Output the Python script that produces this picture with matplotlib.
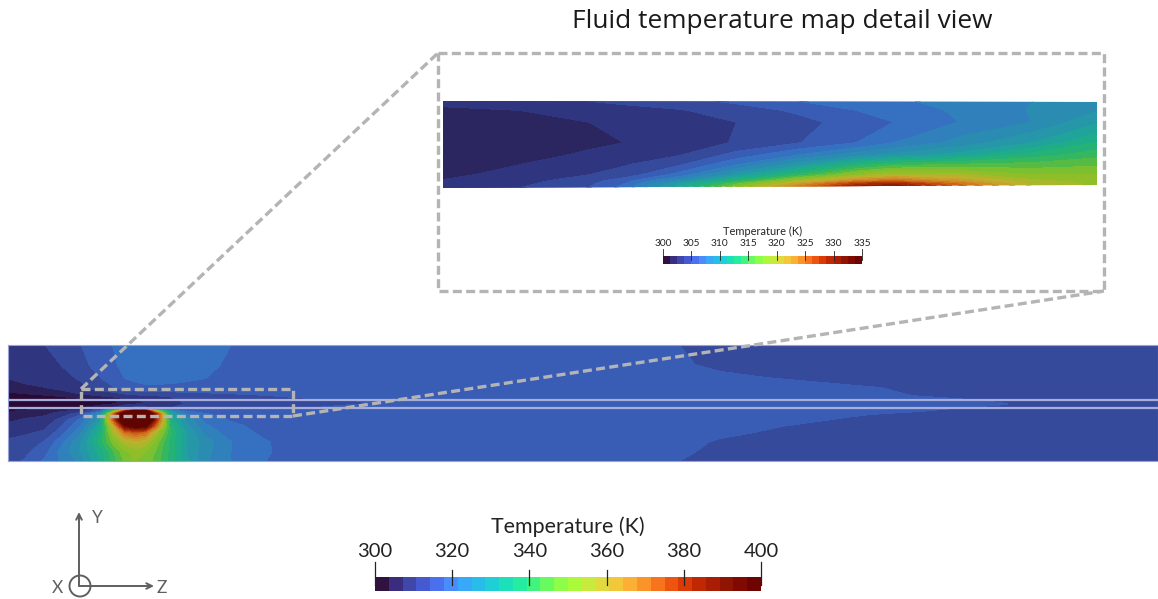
import numpy as np
import matplotlib
matplotlib.use("Agg")
import matplotlib.pyplot as plt
from matplotlib.colors import ListedColormap
from matplotlib.patches import Polygon, Ellipse

# ---------- data ----------
band_colors = ["#2f1240", "#3a2d80", "#3f47a8", "#4659d0", "#4a70ee", "#4a8cfa", "#38a8f8",
               "#28bde8", "#1ed0d5", "#1be0b8", "#25ec9f", "#40f47f", "#68fb60", "#8dfd48",
               "#aafa3a", "#c8ea3e", "#e0da3f", "#f2c83a", "#fbb035", "#fb9428", "#f7731c",
               "#ec5410", "#da3a08", "#c02804", "#a81d03", "#901402", "#800a02", "#6e0402"]
# the lit surfaces show duller colours than the colour bars
field_colors = ["#30357f", "#364a9c", "#395cb4", "#3670c0", "#2f80bb", "#2a8cb0", "#2597a8",
                "#1fa39a", "#1fac88", "#25b276", "#35b760", "#55bb45", "#7ac030", "#8fbe28",
                "#a8b82a", "#bcb02c", "#c8a02c", "#cf8e28", "#cf7a20", "#cc6418", "#c44c10",
                "#b43608", "#a02804", "#8c1c03", "#7a1402", "#6c0a02", "#600402"]
main_low_colors = ["#2a0a35", "#2b2058"]
inset_low_color = "#2b2560"

main_ticks = [300, 320, 340, 360, 380, 400]
inset_ticks = [300, 305, 310, 315, 320, 325, 330, 335]

main_z_mm = [0, 1.7, 3.7, 5.2, 7.2, 9.2, 10.7, 11.7, 12.7, 13.7, 14.7, 16.2, 17.7, 19.7, 22.2,
             25.7, 29.2, 34.2, 49.2, 67.2, 71.2, 84.2, 99.2, 115]
main_y_mm = [11.6, 9.6, 8.3, 7.3, 6.5, 6.1, 5.7, 5.3, 5.0, 4.7, 4.1, 3.5, 2.9, 1.9, 0.9, 0]
main_T = [
 [305.5,306.3,307.1,308.5,310.5,313.0,314.5,315.2,315.7,316.0,316.2,316.2,316.0,315.2,314.3,313.5,313.0,312.5,312.0,310.7,310.0,309.5,309.3,309.2],
 [305.0,305.6,306.3,307.0,309.5,312.0,314.0,315.0,315.7,316.0,316.2,316.2,316.0,315.0,313.8,313.0,312.7,312.3,312.0,310.9,310.4,309.5,309.3,309.2],
 [303.6,304.2,305.0,305.8,307.5,310.5,313.0,314.3,315.0,315.4,315.4,315.2,315.0,314.3,313.5,312.8,312.5,312.2,312.0,311.5,311.0,310.2,309.5,309.2],
 [302.5,303.0,303.4,304.0,306.0,308.5,310.5,312.0,313.0,313.5,313.5,313.5,313.0,312.8,312.5,312.0,311.9,311.8,311.8,311.5,311.3,310.9,310.0,309.5],
 [301.0,301.2,301.5,301.8,302.5,303.2,304.0,305.0,305.7,306.2,306.6,307.2,308.0,309.0,309.8,310.5,311.0,311.3,311.5,311.5,311.4,311.0,310.3,309.8],
 [300.2,300.4,300.6,300.8,301.0,301.2,301.6,302.5,303.2,304.0,305.0,306.5,307.5,308.5,309.3,309.8,310.2,310.7,311.2,311.5,311.4,311.2,310.6,310.0],
 [300.0,300.2,300.4,300.7,301.0,301.3,301.7,302.5,303.0,303.3,303.6,305.5,307.1,308.2,309.2,309.9,310.2,310.6,311.4,311.8,311.7,311.3,310.75,310.0],
 [300.5,300.7,301.0,301.3,301.7,302.5,304.0,306.0,308.0,308.0,306.0,307.0,308.0,309.2,309.8,310.2,310.6,311.0,311.5,311.7,311.5,311.2,310.5,309.8],
 [301.5,302.0,302.5,303.0,304.0,312.0,345.0,380.0,400.0,400.0,355.0,322.0,314.0,312.5,312.0,312.0,312.0,312.0,312.0,311.6,311.4,311.0,310.4,309.6],
 [302.0,302.5,303.0,304.5,309.0,322.0,375.0,410.0,420.0,420.0,385.0,330.0,318.0,314.5,313.0,312.7,312.4,312.2,312.0,311.6,311.3,310.8,310.2,309.5],
 [303.0,303.8,304.5,308.0,315.0,327.0,378.0,412.0,430.0,425.0,385.0,335.0,325.0,316.5,314.0,313.0,312.6,312.3,312.0,311.5,311.2,310.6,310.0,309.5],
 [304.2,305.0,306.0,310.0,317.0,331.0,362.0,392.0,400.0,398.0,372.0,338.0,326.0,318.5,315.0,313.2,312.7,312.3,312.0,311.4,311.0,310.4,309.9,309.4],
 [305.5,306.5,307.5,312.0,320.0,334.0,356.0,370.0,375.0,372.0,356.0,340.0,329.0,320.0,316.0,313.4,312.8,312.4,312.0,311.3,310.9,310.2,309.7,309.3],
 [307.8,308.3,311.0,316.0,324.0,337.0,349.0,355.0,358.0,356.0,349.0,338.0,329.0,323.0,318.0,314.5,313.0,312.5,312.0,311.0,310.6,310.0,309.5,309.3],
 [309.0,309.8,313.0,318.5,325.0,333.0,343.0,349.0,351.0,350.0,346.0,338.0,329.0,322.5,317.9,314.5,313.3,312.6,312.0,310.9,310.4,309.8,309.4,309.2],
 [309.5,311.0,314.8,318.0,322.0,332.0,342.0,347.0,350.0,349.0,345.0,338.0,330.0,322.0,317.9,314.3,313.3,312.6,312.0,310.7,310.2,309.6,309.3,309.2],
]

inset_z_mm = [0, 7.7, 14.7, 18.2, 23.7, 29.4, 35.7, 41.4, 45.2, 51.9, 59.0, 65.4]
inset_y_mm = [8.7, 7.8, 6.6, 4.5, 3.3, 2.3, 1.3, 0.7, 0.4, 0]
inset_T = [
 [301.9,302.2,302.5,302.8,303.3,304.0,305.0,305.6,306.0,306.8,307.5,308.0],
 [300.8,301.25,301.8,302.0,302.4,303.1,304.0,305.0,305.5,306.5,307.6,308.6],
 [300.5,300.9,301.25,301.5,302.0,302.5,303.35,304.3,305.0,306.3,307.5,309.7],
 [300.3,300.7,301.05,301.25,301.9,302.6,303.7,305.0,306.25,308.0,310.0,312.5],
 [300.4,300.9,301.4,301.7,302.4,304.2,306.2,308.0,309.0,310.5,313.0,314.5],
 [300.6,301.25,301.9,302.4,303.6,306.2,309.5,313.0,314.5,315.2,315.5,316.0],
 [301.0,301.6,302.5,303.0,305.5,309.5,314.0,318.0,319.5,319.0,317.5,317.5],
 [301.3,302.0,303.2,304.5,308.0,313.0,319.0,323.5,325.0,322.0,319.0,318.2],
 [301.6,302.2,303.5,305.0,310.0,316.0,322.0,328.0,329.5,324.5,319.5,318.5],
 [302.0,302.5,303.8,305.5,311.0,318.0,325.0,331.0,332.0,326.0,320.0,318.7],
]

W, H = 1158, 599
fig = plt.figure(figsize=(W / 100, H / 100), dpi=100, facecolor="white")
plt.rcParams["font.family"] = ["Lato", "DejaVu Sans"]


def axes_px(x0, y0, x1, y1, **kw):
    return fig.add_axes([x0 / W, 1 - y1 / H, (x1 - x0) / W, (y1 - y0) / H], **kw)


bar_cmap = ListedColormap(band_colors)
n_bands = len(band_colors)
below, above = 250, 500


def draw_field(ax, z, y, T, levels, colors):
    cs = ax.contourf(z, y, np.array(T), levels=levels, colors=colors)
    cs.set_edgecolor("face")
    cs.set_linewidth(0.6)
    return cs


def draw_bar(x0, y0, x1, y1, lo, hi, ticks, title, fs, title_fs, tick_up, end_up, lpad, tpad, lw):
    ax = axes_px(x0, y0, x1, y1)
    vals = np.linspace(lo, hi, n_bands + 1)
    ax.pcolormesh(vals, [0, 1], np.arange(n_bands)[None, :], cmap=bar_cmap, vmin=-.5, vmax=n_bands - .5)
    ax.set_xlim(lo, hi)
    ax.set_ylim(0, 1)
    ax.set_yticks([])
    ax.set_xticks([])
    for s in ax.spines.values():
        s.set_visible(False)
    bar_h = y1 - y0
    for t in ticks:
        up = end_up if t in (lo, hi) else tick_up
        ax.plot([t, t], [0.45, 1 + up / bar_h], color="#222222", lw=lw, clip_on=False, zorder=5)
        ax.text(t, 1 + (end_up + lpad) / bar_h, str(t), ha="center", va="bottom",
                fontsize=fs, color="#222222", clip_on=False)
    ax.text((lo + hi) / 2, 1 + (end_up + lpad + tpad) / bar_h, title, ha="center", va="bottom",
            fontsize=title_fs, color="#222222", clip_on=False)


# main strip
main_steps = np.linspace(300, 400, n_bands + 1)[1:-1]
main_levels = np.r_[below, 301.8, main_steps, above]
ax_main = axes_px(8, 345, 1158, 461)
draw_field(ax_main, main_z_mm, main_y_mm, main_T, main_levels, main_low_colors + field_colors)
ax_main.set_xlim(0, 115)
ax_main.set_ylim(0, 11.6)
ax_main.set_xticks([])
ax_main.set_yticks([])
for s in ax_main.spines.values():
    s.set_color("#98a2d4")
    s.set_linewidth(0.8)
for pipe_y in (6.1, 5.3):
    ax_main.axhline(pipe_y, color="#a6aedb", lw=1.6)

# inset
inset_levels = np.r_[below, np.linspace(300, 335, n_bands + 1)[1:-1], above]
ax_in = axes_px(443, 100, 1097, 188)
ax_in.set_axis_off()
cs = draw_field(ax_in, inset_z_mm, inset_y_mm, inset_T, inset_levels, [inset_low_color] + field_colors)
ax_in.set_xlim(0, 65.4)
ax_in.set_ylim(0, 8.8)
outline = Polygon([(0, 0), (65.4, 0.3), (65.4, 8.6), (0, 8.7)], closed=True,
                  transform=ax_in.transData, fc="none", ec="none")
ax_in.add_patch(outline)
cs.set_clip_path(outline)

# colour bars
draw_bar(375, 577, 761, 591, 300, 400, main_ticks, "Temperature (K)", 14.5, 15.4, 7, 15, 2, 23, 0.9)
draw_bar(663, 256, 862, 264, 300, 335, inset_ticks, "Temperature (K)", 7.3, 7.9, 5, 7, 1, 11, 0.6)

# overlay in picture pixels: call-outs, triad, title
ov = fig.add_axes([0, 0, 1, 1], facecolor="none")
ov.set_xlim(0, W)
ov.set_ylim(H, 0)
ov.set_axis_off()

dash = dict(color="#b4b4b4", lw=2.4, ls=(0, (2.7, 1.3)), dash_capstyle="butt")
ov.plot([81, 293, 293, 81, 81], [389, 389, 416, 416, 389], **dash)
ov.plot([438, 1104, 1104, 438, 438], [53, 53, 291, 291, 53], **dash)
ov.plot([81, 438], [389, 53], **dash)
ov.plot([293, 1104], [416, 291], **dash)

grey = "#5f5f5f"
ov.annotate("", xy=(79, 512), xytext=(79, 586),
            arrowprops=dict(arrowstyle="->", color=grey, lw=1.4, shrinkA=0, shrinkB=0))
ov.annotate("", xy=(154, 586), xytext=(79, 586),
            arrowprops=dict(arrowstyle="->", color=grey, lw=1.4, shrinkA=0, shrinkB=0))
ov.add_patch(Ellipse((80, 586), 21, 21, fc="none", ec=grey, lw=1.4))
for txt, x, y in (("Y", 97, 518), ("Z", 162, 588), ("X", 57, 588)):
    ov.text(x, y, txt, ha="center", va="center", fontsize=12.5, color=grey)

ov.text(782.5, 22, "Fluid temperature map detail view", ha="center", va="center",
        fontsize=18.95, color="#1a1a1a", family="Open Sans")

fig.savefig("out.png", dpi=100, facecolor="white")
